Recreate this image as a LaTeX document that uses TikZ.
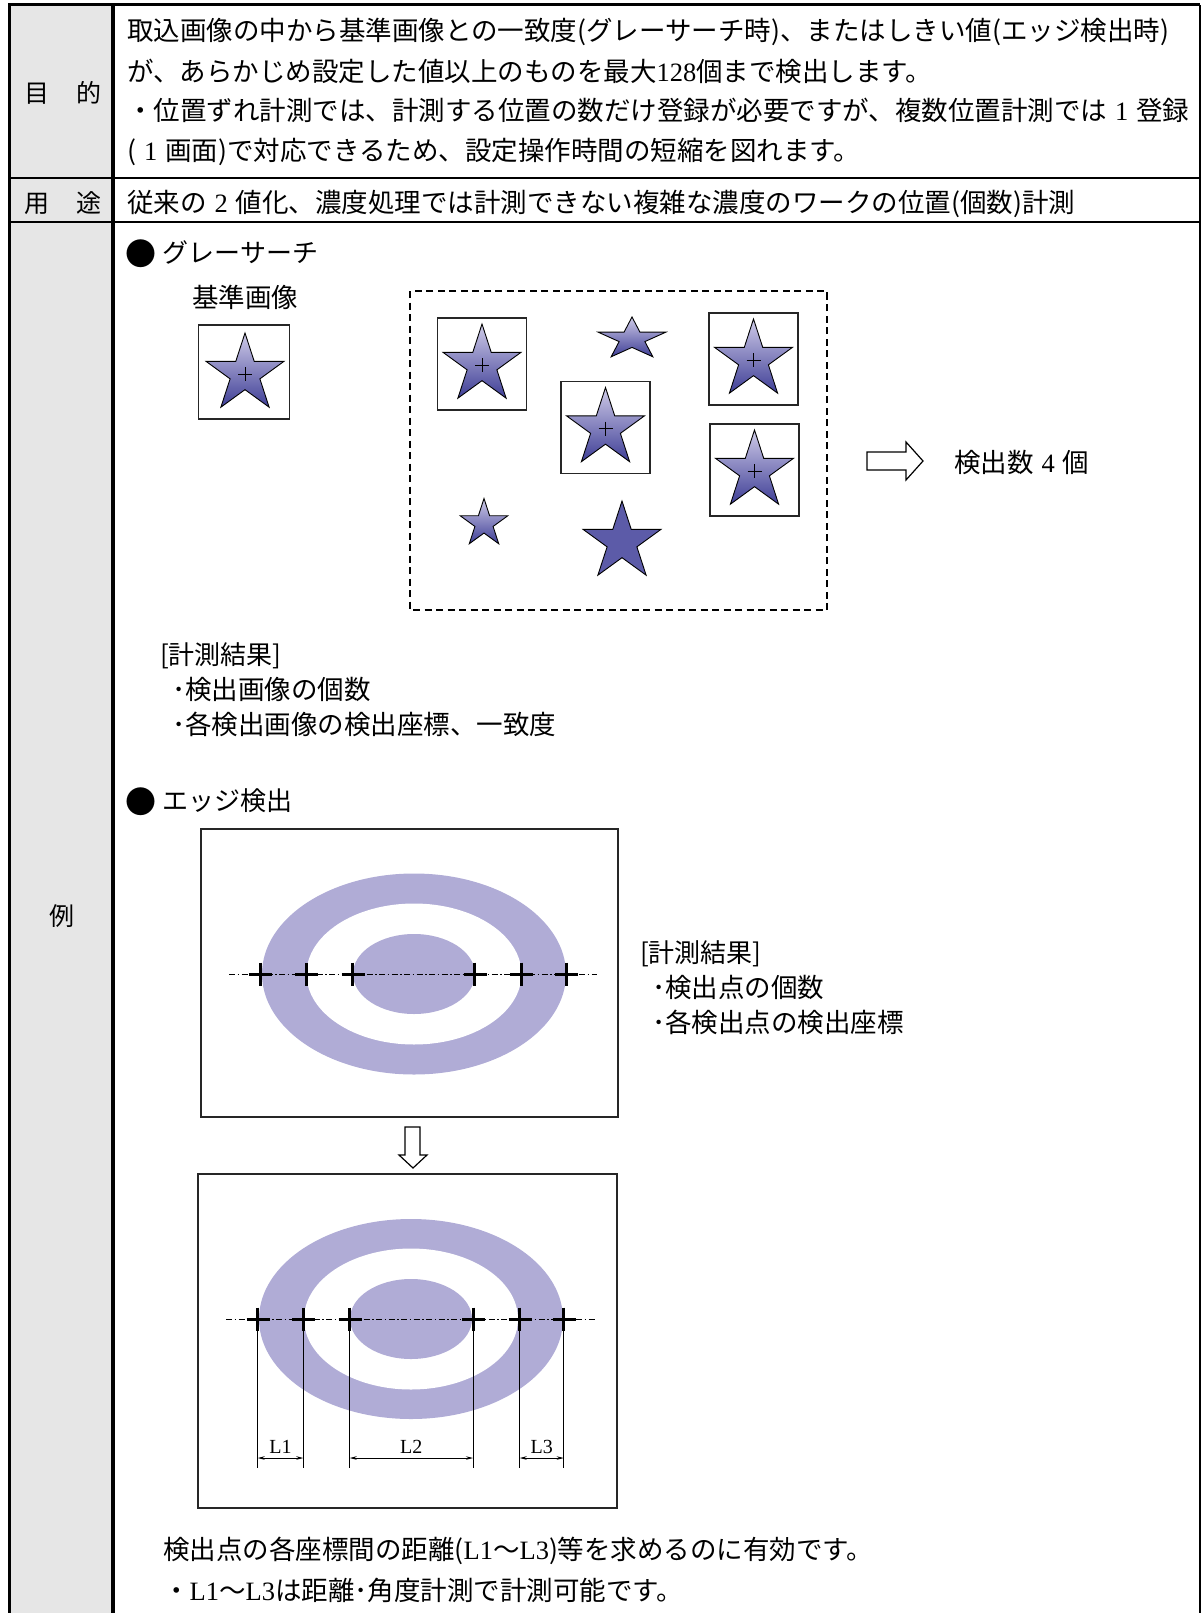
\documentclass[tikz,border=0pt]{standalone}
\usepackage{fontspec}
\setmainfont{Liberation Serif}
\newfontfamily\jpfont{Noto Sans CJK JP}
\usetikzlibrary{shapes.geometric}
\usetikzlibrary{arrows.meta}
\usetikzlibrary{positioning}

\definecolor{cellgray}{HTML}{E6E6E6}
\definecolor{ringfill}{HTML}{B0ACD6}
\definecolor{starlight}{HTML}{CFCBE8}
\definecolor{stardark}{HTML}{3E3E96}
\definecolor{starflat}{HTML}{5C5BA8}

\newcommand{\latn}[1]{{\rmfamily #1}}
\newcommand{\fwnum}[1]{\hspace{0.3em}{\rmfamily #1}\hspace{0.3em}}
\newcommand{\bigdot}{\raisebox{-0.1em}{\fontsize{31}{31}\selectfont ●}}

\begin{document}
\begin{tikzpicture}[x=1pt,y=-1pt]
			\tikzset{txt/.style = {anchor=west, inner sep=0pt, yshift=-6pt, 
					font=\jpfont\fontsize{26.5}{26.5}\selectfont, 
					text height=0.88em, text depth=0.12em}}
			\tikzset{head/.style = {txt, font=\jpfont\fontsize{26}{26}\selectfont}}
			\tikzset{tag/.style = {txt, anchor=center, 
					font=\jpfont\fontsize{25}{25}\selectfont}}
			\tikzset{starbase/.style = {shape=star, star points=5, 
					star point ratio=2.618, minimum size=82pt, inner sep=0pt, 
					draw=black, line width=0.9pt}}
			\tikzset{starnode/.style = {starbase, top color=starlight, 
					bottom color=stardark}}
			\tikzset{flatstar/.style = {starbase, fill=starflat}}
			\tikzset{hitbox/.style = {shape=rectangle, draw=black!85, 
					line width=1.2pt, minimum width=89pt, minimum height=92pt, 
					inner sep=0pt}}
			\tikzset{frame/.style = {shape=rectangle, draw=black!85, 
					line width=1.3pt, inner sep=0pt}}
			\tikzset{hit/.style = {line width=3pt}}
			\tikzset{axis/.style = {line width=0.9pt, 
					dash pattern=on 6pt off 2.5pt on 1.5pt off 2.5pt}}
			\tikzset{dim/.style = {{Stealth[length=7pt,width=3.5pt]}-{Stealth[length=7pt,width=3.5pt]}, 
					line width=0.8pt}}
			\tikzset{dimtext/.style = {font=\fontsize{20}{20}\selectfont, 
					inner sep=0pt, anchor=base, yshift=5pt}}
			
			\useasboundingbox (0,0) rectangle (1203,1613);
			
			% table
			\fill[cellgray] (9,5) rectangle (113,1613);
			\draw[line width=1.8pt] (9,178) -- (1200,178) (9,222) -- (1200,222);
			\draw[line width=1.8pt] (1200,5) -- (1200,1613);
			\draw[line width=3pt] (9,1613) -- (9,5) -- (1200,5);
			\draw[line width=3.2pt] (113,5) -- (113,1613);
			
			\node[tag] (t1) at (63,93) {目\hspace{1.1em}的};
			\node[tag] (t2) at (63,203) {用\hspace{1.1em}途};
			\node[tag] (t3) at (62,916) {例};
			
			\node[txt] (p1) at (127,31) {取込画像の中から基準画像との一致度(グレーサーチ時)、またはしきい値(エッジ検出時)};
			\node[txt] (p2) at (127,72) {が、あらかじめ設定した値以上のものを最大\latn{128}個まで検出します。};
			\node[txt] (p3) at (127,111) {・位置ずれ計測では、計測する位置の数だけ登録が必要ですが、複数位置計測では\fwnum{1}登録};
			\node[txt] (p4) at (127,151) {(\fwnum{1}画面)で対応できるため、設定操作時間の短縮を図れます。};
			\node[txt] (u1) at (127,203) {従来の\fwnum{2}値化、濃度処理では計測できない複雑な濃度のワークの位置(個数)計測};
			
			% gray search
			\node[head] (g) at (125,253) {\bigdot\hspace{0.25em}グレーサーチ};
			\node[txt] (rc) at (192,298) {基準画像};
			\node[hitbox, minimum width=91pt, minimum height=94pt] (rb) at (244,372) {};
			\node[starnode] (r) at (245,374) {};
			
			\draw[line width=1.2pt, dash pattern=on 7pt off 4.5pt] (410,291) rectangle (827,610);
			\node[hitbox] (ba) at (482,364) {};
			\node[hitbox] (bb) at (605.5,427.5) {};
			\node[hitbox] (bc) at (753.5,359) {};
			\node[hitbox] (bd) at (754.5,470) {};
			\node[starnode] (sa) at (482,365) {};
			\node[starnode] (sb) at (605.5,428.5) {};
			\node[starnode] (sc) at (753.5,360) {};
			\node[starnode] (sd) at (754.5,471) {};
			\node[starnode, minimum size=50pt] (se) at (484,523.5) {};
			\node[flatstar] (sf) at (622,542) {};
			\begin{scope}[shift={(632,339)}, yscale=0.62]
				\node[starnode, minimum size=71pt, transform shape] (sg) at (0,0) {};
			\end{scope}
			\foreach \s in {r,sa,sb,sc,sd}
				\draw[line width=1pt] (\s.center) +(-7,0) -- +(7,0) (\s.center) +(0,-7) -- +(0,7);
			
			\draw[line width=1.2pt, fill=white] (867,452) -- (906,452) -- (906,442) -- (923,461) 
				-- (906,480) -- (906,470) -- (867,470) -- cycle;
			\node[txt] (n) at (954,463) {検出数\fwnum{4}個};
			
			\node[head] (m) at (160,655) {[計測結果]};
			\node[txt] (m1) at (172,690) {･検出画像の個数};
			\node[txt] (m2) at (172,725) {･各検出画像の検出座標、一致度};
			
			% edge detection
			\node[head] (e) at (125,801) {\bigdot\hspace{0.25em}エッジ検出};
			\node[frame, minimum width=417pt, minimum height=288pt] (f1) at (409.5,973) {};
			\fill[ringfill] (414,974) ellipse [x radius=152, y radius=100.5];
			\fill[white] (414,974) ellipse [x radius=107.5, y radius=70.5];
			\fill[ringfill] (414,974) ellipse [x radius=61, y radius=40];
			\coordinate (a1) at (229,974);
			\coordinate (a2) at (597,974);
			\draw[axis] (a1) -- (a2);
			\foreach \dx [count=\i] in {-154,-108,-61.5,60.5,107,152}
				\coordinate (h\i) at (414+\dx,974);
			\foreach \i in {1,...,6}
				\draw[hit] (h\i) +(-11,0) -- +(12,0) (h\i) +(0,-11.5) -- +(0,11.5);
			
			\node[head] (k) at (640,953) {[計測結果]};
			\node[txt] (k1) at (652,988) {･検出点の個数};
			\node[txt] (k2) at (652,1023) {･各検出点の検出座標};
			
			\draw[line width=1.2pt, fill=white] (405,1127) -- (420,1127) -- (420,1155) -- (427,1155) 
				-- (413,1168) -- (399,1155) -- (405,1155) -- cycle;
			
			\node[frame, minimum width=419pt, minimum height=334pt] (f2) at (407.5,1341) {};
			\fill[ringfill] (411,1319) ellipse [x radius=152, y radius=100];
			\fill[white] (411,1319) ellipse [x radius=107, y radius=70.5];
			\fill[ringfill] (411,1319) ellipse [x radius=61, y radius=40];
			\coordinate (b1) at (226,1319);
			\coordinate (b2) at (595,1319);
			\draw[axis] (b1) -- (b2);
			\foreach \dx [count=\i] in {-153.3,-107.7,-61.3,62,108.7,152.7} {
				\coordinate (c\i) at (411+\dx,1319);
				\coordinate (d\i) at (411+\dx,1468);
				\coordinate (q\i) at (411+\dx,1458);
			}
			\foreach \i in {1,...,6} {
				\draw[line width=0.9pt] (c\i) -- (d\i);
				\draw[hit] (c\i) +(-11,0) -- +(12,0) (c\i) +(0,-11.5) -- +(0,11.5);
			}
			\draw[dim] (q1) -- node[dimtext] {L1} (q2);
			\draw[dim] (q3) -- node[dimtext] {L2} (q4);
			\draw[dim] (q5) -- node[dimtext] {L3} (q6);
			
			\node[txt] (z1) at (163,1550) {検出点の各座標間の距離(\latn{L1}～\latn{L3})等を求めるのに有効です。};
			\node[txt] (z2) at (163,1591) {・\latn{L1}～\latn{L3}は距離･角度計測で計測可能です。};
			
\end{tikzpicture}
\end{document}
